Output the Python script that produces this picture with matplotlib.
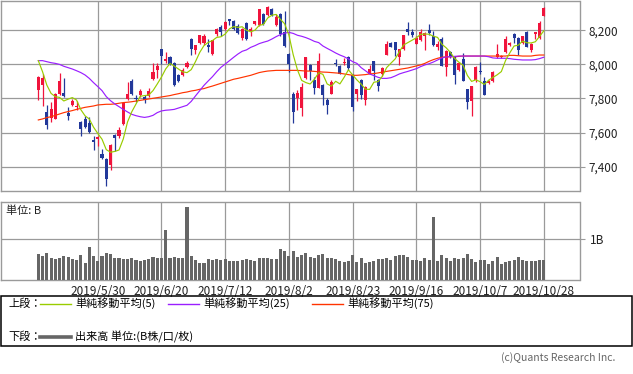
import numpy as np
import pandas as pd
import matplotlib
matplotlib.use("Agg")
import matplotlib.pyplot as plt
from matplotlib.lines import Line2D
from matplotlib.patches import Rectangle
from matplotlib.ticker import FuncFormatter

plt.rcParams['font.family'] = ['Noto Sans CJK JP', 'DejaVu Sans']

date_labels = ["2019/5/30", "2019/6/20", "2019/7/12", "2019/8/2",
               "2019/8/23", "2019/9/16", "2019/10/7", "2019/10/28"]
date_label_idx = [14, 29, 44, 59, 74, 89, 104, 119]

opens = [7850, 7879, 7721, 7686, 7680, 7826, 7832, 7715, 7762, 7750,
         7662, 7680, 7656, 7557, 7565, 7474, 7445, 7410, 7586, 7580,
         7650, 7797, 7903, 7803, 7821, 7809, 7815, 7914, 7967, 8090,
         8022, 8044, 8008, 7938, 7938, 7985, 8149, 8085, 8126, 8126,
         8114, 8061, 8178, 8220, 8208, 8267, 8255, 8225, 8155, 8243,
         8196, 8237, 8231, 8296, 8290, 8325, 8231, 8296, 8190, 8061,
         7826, 7803, 7744, 7920, 7997, 7909, 7862, 7879, 7791, 7826,
         8010, 7991, 8010, 8044, 7938, 7826, 7909, 7791, 7944, 8020,
         7909, 7944, 8055, 8126, 8132, 8044, 8090, 8208, 8190, 8120,
         8143, 8167, 8202, 8167, 8102, 8149, 7985, 8073, 8049, 7967,
         8032, 7856, 7785, 7909, 7959, 7903, 7891, 7903, 8044, 8042,
         8073, 8114, 8178, 8155, 8126, 8190, 8085, 8178, 8155, 8284]
highs = [7932, 7944, 7762, 7779, 7830, 7950, 7920, 7750, 7797, 7785,
         7668, 7697, 7691, 7580, 7580, 7504, 7451, 7533, 7592, 7633,
         7774, 7897, 7914, 7821, 7856, 7821, 7862, 8008, 8008, 8090,
         8073, 8049, 8014, 7944, 7979, 8020, 8155, 8114, 8173, 8178,
         8149, 8143, 8214, 8231, 8255, 8267, 8261, 8237, 8214, 8249,
         8220, 8255, 8325, 8302, 8343, 8331, 8296, 8302, 8313, 8067,
         7838, 7850, 7891, 8044, 8002, 7926, 8067, 7885, 7803, 7909,
         8032, 7997, 8038, 8049, 7944, 7856, 7914, 7873, 7997, 8020,
         7914, 7985, 8137, 8132, 8132, 8090, 8173, 8249, 8208, 8167,
         8208, 8190, 8237, 8196, 8137, 8161, 8085, 8079, 8049, 8014,
         8067, 7856, 7873, 7991, 8014, 7926, 7909, 7961, 8120, 8055,
         8167, 8132, 8184, 8161, 8167, 8196, 8126, 8190, 8255, 8337]
lows = [7791, 7756, 7621, 7662, 7680, 7821, 7811, 7674, 7756, 7733,
        7580, 7627, 7598, 7498, 7521, 7445, 7287, 7380, 7492, 7568,
        7645, 7791, 7821, 7779, 7809, 7774, 7809, 7909, 7920, 8002,
        8008, 7997, 7873, 7897, 7932, 7979, 8055, 8061, 8120, 8114,
        8073, 8055, 8167, 8167, 8202, 8231, 8202, 8178, 8143, 8143,
        8167, 8231, 8225, 8231, 8284, 8284, 8225, 8167, 8102, 7955,
        7656, 7733, 7697, 7914, 7909, 7826, 7862, 7762, 7709, 7826,
        7991, 7944, 7997, 7967, 7727, 7785, 7797, 7762, 7944, 7909,
        7844, 7932, 8055, 8102, 8049, 7997, 8085, 8173, 8161, 8120,
        8137, 8085, 8173, 8108, 8085, 7991, 7932, 8038, 7885, 7961,
        7903, 7738, 7697, 7897, 7944, 7821, 7885, 7897, 8038, 8036,
        8067, 8108, 8126, 8055, 8120, 8102, 8073, 8149, 8149, 8284]
closes = [7924, 7920, 7645, 7738, 7826, 7903, 7815, 7697, 7785, 7756,
          7621, 7633, 7603, 7545, 7572, 7451, 7328, 7527, 7568, 7615,
          7774, 7826, 7826, 7797, 7844, 7791, 7844, 7955, 7991, 8049,
          8030, 8002, 7879, 7903, 7967, 8008, 8090, 8114, 8173, 8167,
          8102, 8143, 8208, 8190, 8249, 8255, 8208, 8184, 8208, 8149,
          8208, 8255, 8325, 8237, 8337, 8290, 8278, 8178, 8108, 8002,
          7721, 7832, 7867, 8044, 7961, 7862, 8020, 7821, 7762, 7897,
          8004, 7944, 8016, 7979, 7750, 7856, 7821, 7867, 7973, 7961,
          7873, 7979, 8120, 8102, 8085, 8090, 8173, 8190, 8173, 8155,
          8190, 8184, 8184, 8114, 8120, 7991, 8079, 8049, 7938, 8008,
          7903, 7779, 7873, 7985, 7953, 7821, 7903, 7955, 8061, 8049,
          8149, 8126, 8155, 8085, 8167, 8102, 8120, 8190, 8243, 8331]

# first four MA5 values (prior history not shown)
ma5_head = [8022, 7957, 7879, 7830]

ma25 = [8022, 8022, 8016, 8010, 8006, 8000, 7989, 7981, 7973, 7963,
        7952, 7938, 7918, 7893, 7870, 7846, 7811, 7787, 7768, 7752,
        7736, 7721, 7707, 7699, 7693, 7689, 7693, 7701, 7717, 7727,
        7731, 7733, 7736, 7744, 7752, 7760, 7783, 7815, 7846, 7877,
        7903, 7928, 7957, 7983, 8002, 8022, 8042, 8061, 8077, 8085,
        8100, 8110, 8122, 8130, 8137, 8149, 8163, 8175, 8184, 8188,
        8182, 8171, 8165, 8157, 8147, 8135, 8128, 8108, 8094, 8081,
        8067, 8055, 8045, 8032, 8016, 8006, 7981, 7963, 7944, 7934,
        7924, 7918, 7918, 7922, 7932, 7944, 7952, 7959, 7967, 7975,
        7987, 7997, 8004, 8014, 8026, 8038, 8044, 8045, 8047, 8049,
        8049, 8049, 8049, 8049, 8049, 8049, 8045, 8038, 8036, 8036,
        8036, 8034, 8030, 8028, 8026, 8026, 8026, 8028, 8034, 8042]

ma75 = [7674, 7680, 7688, 7693, 7701, 7709, 7717, 7723, 7729, 7736,
        7742, 7748, 7752, 7756, 7762, 7764, 7766, 7766, 7768, 7772,
        7776, 7778, 7781, 7785, 7789, 7793, 7797, 7801, 7805, 7809,
        7813, 7817, 7823, 7828, 7834, 7838, 7844, 7848, 7854, 7858,
        7866, 7873, 7881, 7889, 7897, 7905, 7913, 7918, 7924, 7930,
        7936, 7944, 7952, 7957, 7961, 7963, 7965, 7965, 7965, 7965,
        7965, 7965, 7963, 7961, 7961, 7959, 7957, 7955, 7954, 7952,
        7950, 7948, 7944, 7940, 7936, 7936, 7938, 7940, 7944, 7946,
        7950, 7955, 7959, 7963, 7967, 7971, 7975, 7979, 7985, 7991,
        7997, 8006, 8018, 8028, 8036, 8042, 8044, 8045, 8045, 8047,
        8049, 8049, 8049, 8049, 8049, 8049, 8049, 8049, 8049, 8049,
        8049, 8053, 8053, 8051, 8049, 8049, 8049, 8053, 8055, 8055]

volumes = [0.63, 0.58, 0.65, 0.53, 0.51, 0.53, 0.58, 0.56, 0.51, 0.48,
           0.60, 0.41, 0.80, 0.58, 0.46, 0.58, 0.65, 0.63, 0.53, 0.53,
           0.51, 0.51, 0.53, 0.48, 0.46, 0.48, 0.51, 0.56, 0.53, 0.53,
           1.21, 0.53, 0.56, 0.53, 0.53, 1.77, 0.58, 0.48, 0.41, 0.41,
           0.51, 0.48, 0.51, 0.48, 0.51, 0.46, 0.46, 0.46, 0.48, 0.51,
           0.48, 0.46, 0.53, 0.53, 0.53, 0.51, 0.51, 0.75, 0.70, 0.58,
           0.70, 0.56, 0.60, 0.65, 0.56, 0.53, 0.60, 0.63, 0.53, 0.53,
           0.51, 0.46, 0.44, 0.46, 0.60, 0.44, 0.53, 0.41, 0.44, 0.46,
           0.51, 0.51, 0.53, 0.48, 0.58, 0.60, 0.60, 0.56, 0.48, 0.48,
           0.46, 0.53, 0.48, 1.52, 0.46, 0.60, 0.53, 0.46, 0.53, 0.51,
           0.53, 0.63, 0.51, 0.44, 0.48, 0.48, 0.39, 0.46, 0.56, 0.39,
           0.44, 0.46, 0.48, 0.56, 0.48, 0.46, 0.46, 0.46, 0.48, 0.48]

price_ticks = [7400, 7600, 7800, 8000, 8200]

# ---------------------------------------------------------------
W, H = 633, 374
fig = plt.figure(figsize=(W / 100, H / 100), dpi=100)
fig.patch.set_facecolor('white')

def frect(x0, y0, x1, y1):
    return [x0 / W, 1 - y1 / H, (x1 - x0) / W, (y1 - y0) / H]

GRID = '#9a9a9a'
RED = '#f0143c'
BLUE = '#22389a'
C5, C25, C75 = '#99cc00', '#9a1eff', '#ff3300'

n = len(closes)
x = np.arange(n)
o = np.array(opens, float); c = np.array(closes, float)
h = np.array(highs, float); l = np.array(lows, float)

ma5 = pd.Series(c).rolling(5).mean().to_numpy()
ma5[:4] = ma5_head

xlim = (-8.9, 127.4)

ax = fig.add_axes(frect(0.5, 0.5, 579.5, 190.5))
ax.set_xlim(*xlim)
ax.set_ylim(7260, 8375)
for s in ax.spines.values():
    s.set_color(GRID); s.set_linewidth(1.0)
ax.set_xticks(date_label_idx)
ax.set_xticklabels([])
ax.tick_params(axis='x', length=0)
ax.yaxis.tick_right()
ax.set_yticks(price_ticks)
ax.yaxis.set_major_formatter(FuncFormatter(lambda v, p: f"{int(v):,}"))
ax.tick_params(axis='y', length=3.6, width=0.8, color=GRID, pad=3.2,
               labelsize=8.5, labelcolor='#222222')
ax.grid(True, color=GRID, linewidth=0.9)
ax.set_axisbelow(True)

up = c >= o
colors = np.where(up, RED, BLUE)
ax.vlines(x, l, h, colors=colors, linewidth=0.9, zorder=3)
body_low = np.minimum(o, c)
body_h = np.maximum(np.abs(c - o), 4)
ax.bar(x, body_h, bottom=body_low, width=0.72, color=colors,
       linewidth=0, zorder=4)

ax.plot(x, ma75, color=C75, lw=0.85, zorder=5)
ax.plot(x, ma25, color=C25, lw=0.85, zorder=5)
ax.plot(x, ma5, color=C5, lw=0.85, zorder=6)

# volume panel
av = fig.add_axes(frect(0.5, 201.7, 579.5, 280))
av.set_xlim(*xlim)
av.set_ylim(0, 1.896)
for s in av.spines.values():
    s.set_color(GRID); s.set_linewidth(1.0)
av.bar(x, volumes, width=0.72, color='#666666', linewidth=0, zorder=3)
av.set_xticks(date_label_idx)
av.set_xticklabels(date_labels)
av.tick_params(axis='x', length=0, pad=3.5, labelsize=8.5, labelcolor='#222222')
av.yaxis.tick_right()
av.set_yticks([1.0])
av.set_yticklabels(['1B'])
av.tick_params(axis='y', length=3.6, width=0.8, color=GRID, pad=4.0,
               labelsize=8.5, labelcolor='#222222')
av.grid(True, color=GRID, linewidth=0.9)
av.set_axisbelow(True)
av.text(6 / 579, 1 - 9 / 78.3, '単位: B', transform=av.transAxes,
        fontsize=8, va='center', ha='left', color='#222222')

# legend box
def fx(px): return px / W
def fy(py): return 1 - py / H

fig.patches.append(Rectangle((fx(0.5), fy(346)), fx(631.5) - fx(0.5),
                             fy(295.7) - fy(346), transform=fig.transFigure,
                             fill=False, edgecolor='black', linewidth=1.1))
fs = 8
ly1, ly2 = 303.5, 337
fig.text(fx(8), fy(ly1), '上段：', fontsize=fs, va='center', ha='left')
fig.text(fx(8), fy(ly2), '下段：', fontsize=fs, va='center', ha='left')
for (x0, x1, col, lab) in [(40, 71, C5, '単純移動平均(5)'),
                           (168, 199, C25, '単純移動平均(25)'),
                           (312, 343, C75, '単純移動平均(75)')]:
    fig.lines.append(Line2D([fx(x0), fx(x1)], [fy(ly1), fy(ly1)],
                            transform=fig.transFigure, color=col, lw=1.0))
    fig.text(fx(x1 + 4), fy(ly1), lab, fontsize=fs, va='center', ha='left')
fig.lines.append(Line2D([fx(40), fx(71)], [fy(ly2), fy(ly2)],
                        transform=fig.transFigure, color='#666666', lw=2.6))
fig.text(fx(75), fy(ly2), '出来高 単位:(B株/口/枚)', fontsize=fs,
         va='center', ha='left')

fig.text(fx(615), fy(358), '(c)Quants Research Inc.', fontsize=7.5,
         va='center', ha='right', color='#666666')

fig.savefig('out.png', dpi=100)
